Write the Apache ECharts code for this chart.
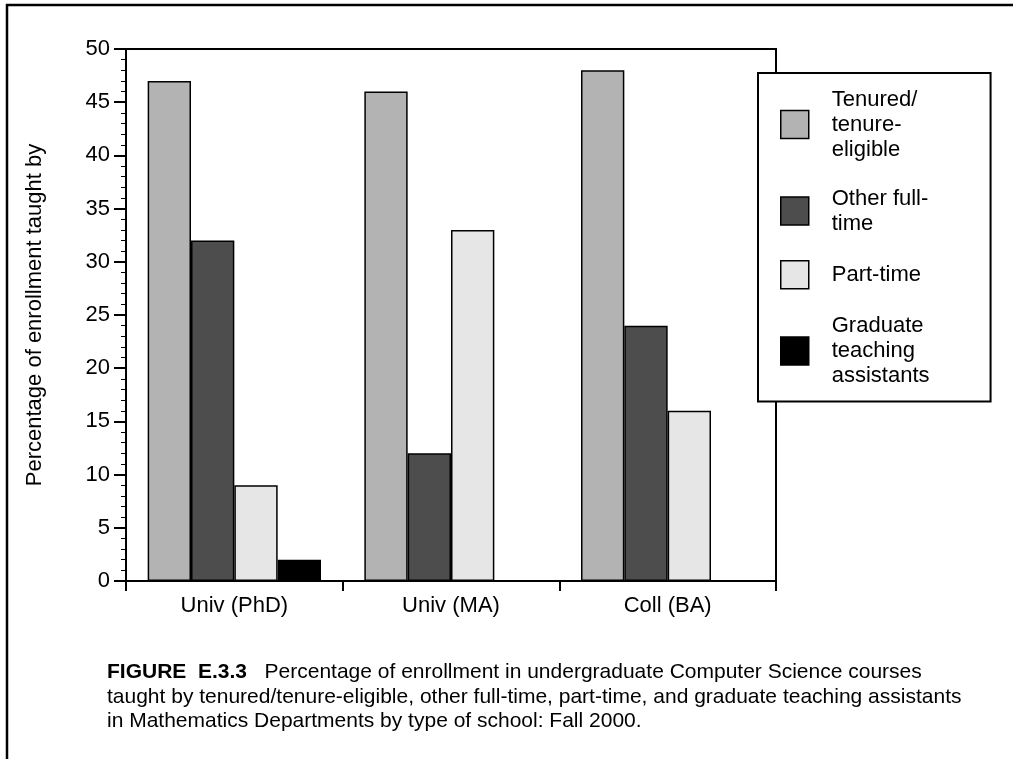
<!DOCTYPE html>
<html>
<head>
<meta charset="utf-8">
<script src="https://cdn.jsdelivr.net/npm/echarts@6/dist/echarts.min.js"></script>
<style>
  html, body { margin: 0; padding: 0; background: #fff; }
  #chart { width: 1013px; height: 759px; }
</style>
</head>
<body>
<div id="chart"></div>
<script>
const categories = ['Univ (PhD)', 'Univ (MA)', 'Coll (BA)'];
const seriesNames = ['Tenured/\ntenure-\neligible', 'Other full-\ntime', 'Part-time', 'Graduate\nteaching\nassistants'];
const tenured = [47, 46, 48];
const otherFullTime = [32, 12, 24];
const partTime = [9, 33, 16];
const gradTA = [2, 0, 0];
const seriesColors = ['#b3b3b3', '#4d4d4d', '#e6e6e6', '#000000'];
const yAxisTitle = 'Percentage of enrollment taught by';
const captionBold = 'FIGURE  E.3.3';
const captionLines = [
  '   Percentage of enrollment in undergraduate Computer Science courses',
  'taught by tenured/tenure-eligible, other full-time, part-time, and graduate teaching assistants',
  'in Mathematics Departments by type of school: Fall 2000.'
];

const FONT = '"Liberation Sans", Arial, Helvetica, sans-serif';
const chart = echarts.init(document.getElementById('chart'), null, { renderer: 'canvas' });

const values = [tenured, otherFullTime, partTime, gradTA];
const series = values.map((v, i) => ({
  name: seriesNames[i],
  type: 'bar',
  data: v,
  barGap: '0%',
  barCategoryGap: '20%',
  itemStyle: { color: seriesColors[i], borderColor: '#000', borderWidth: 1.5 },
  emphasis: { disabled: true },
  animation: false
}));

chart.setOption({
  animation: false,
  backgroundColor: '#fff',
  textStyle: { fontFamily: FONT },
  grid: {
    left: 126, top: 49, right: 237, bottom: 178,
    show: true, borderColor: '#000', borderWidth: 2, backgroundColor: 'transparent'
  },
  legend: {
    orient: 'vertical',
    left: 758, top: 73,
    padding: [14, 61, 13, 22],
    itemGap: 24,
    itemWidth: 28, itemHeight: 28,
    borderColor: '#000', borderWidth: 2,
    backgroundColor: '#fff',
    selectedMode: false,
    icon: 'rect',
    itemStyle: { borderColor: '#000', borderWidth: 1.5 },
    textStyle: { fontFamily: FONT, fontSize: 22, color: '#000', lineHeight: 25, padding: [0, 0, 0, 18] },
    data: seriesNames
  },
  xAxis: {
    type: 'category',
    data: categories,
    axisLine: { lineStyle: { color: '#000', width: 2 } },
    axisTick: { show: true, length: 10, lineStyle: { color: '#000', width: 2 } },
    axisLabel: { color: '#000', fontSize: 22, fontFamily: FONT, margin: 14 }
  },
  yAxis: {
    type: 'value',
    min: 0, max: 50, interval: 5,
    name: yAxisTitle,
    nameLocation: 'middle',
    nameGap: 80,
    nameTextStyle: { color: '#000', fontSize: 22, fontFamily: FONT },
    axisLine: { show: true, lineStyle: { color: '#000', width: 2 } },
    axisTick: { show: true, length: 12, lineStyle: { color: '#000', width: 2 } },
    minorTick: { show: true, splitNumber: 5, length: 5, lineStyle: { color: '#000', width: 1 } },
    splitLine: { show: false },
    axisLabel: { color: '#000', fontSize: 22, fontFamily: FONT, margin: 16 }
  },
  series: series,
  graphic: [
    {
      type: 'polyline',
      shape: { points: [[7, 759], [7, 5], [1013, 5]] },
      style: { stroke: '#000', lineWidth: 2.5, fill: null },
      silent: true
    },
    {
      type: 'text',
      left: 107, top: 660,
      style: {
        text: '{b|' + captionBold + '}' + captionLines[0] + '\n' + captionLines[1] + '\n' + captionLines[2],
        font: '21px ' + FONT,
        fill: '#000',
        lineHeight: 24.5,
        rich: {
          b: { fontWeight: 'bold', fontSize: 21, fontFamily: FONT, fill: '#000', lineHeight: 24.5 }
        }
      },
      silent: true
    }
  ]
});
</script>
</body>
</html>
